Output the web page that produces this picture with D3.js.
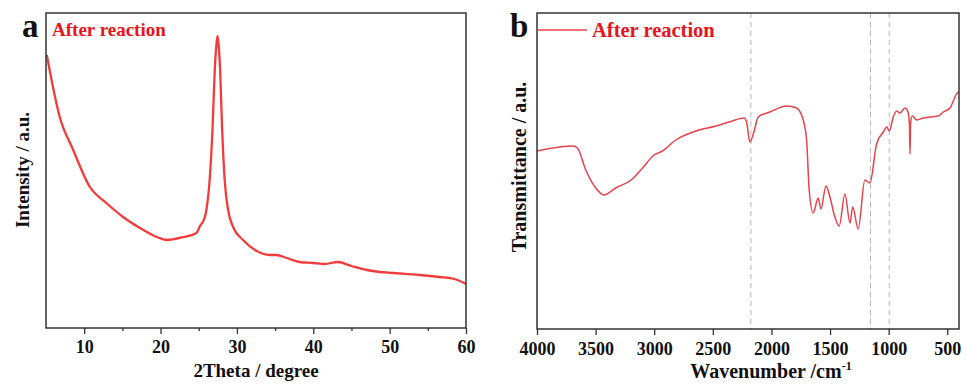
<!DOCTYPE html>
<html>
<head>
<meta charset="utf-8">
<script src="https://cdn.jsdelivr.net/npm/d3@7/dist/d3.min.js"></script>
<style>
  body { margin: 0; background: #fff; }
  svg text { font-family: "Liberation Serif", "Times New Roman", serif; font-weight: bold; }
</style>
</head>
<body>
<svg id="chart" width="966" height="387"></svg>
<script>
// XRD pattern (panel a), intensity in a.u.
const xrdTheta = [5.1, 6.8, 8.56, 10.75, 12.9, 15.1, 17.3, 19.5, 20.8, 23.0, 24.7, 25.1, 25.8, 26.0, 26.45, 26.8, 27.1, 27.3, 27.46,
  27.62, 27.8, 28.07, 28.4, 28.85, 29.5, 30.8, 32.6, 34.3, 35.2, 36.5, 38.2, 40, 41.5, 43.2, 45, 47, 48.7, 50.4, 53.9, 56.5, 58.5, 60];
const xrdIntensity = [273, 211, 178, 141, 125, 111, 100, 91, 88, 91, 95, 101, 111, 118, 150, 198, 258, 282, 292,
  282, 258, 198, 148, 118, 101, 88, 77, 73, 73, 70, 66, 65, 64, 66, 62, 58, 56, 55, 53, 51, 49, 44];
const xrdTicks = [10, 20, 30, 40, 50, 60];
const xrdMinor = [15, 25, 35, 45, 55];

// FTIR spectrum (panel b), transmittance in a.u.
const irWave = [4000, 3693, 3655, 3584, 3499, 3428, 3328, 3186, 3100, 3001, 2930, 2816, 2645, 2474, 2361, 2233, 2212, 2184,
  2150, 2113, 2014, 1871, 1786, 1729, 1700, 1678, 1644, 1601, 1578, 1535, 1501, 1459, 1422, 1373, 1330, 1307, 1260,
  1203, 1160, 1103, 1046, 1017, 995, 961, 932, 904, 861, 833, 823, 818, 813, 799, 761, 705, 577, 534, 477, 415, 400];
const irTrans = [178, 183, 181, 159, 141, 134, 141, 150, 161, 174, 178, 189, 198, 203, 207, 211, 207, 187,
  197, 212, 217, 223, 221, 209, 189, 139, 116, 131, 120, 143, 132, 112, 103, 135, 106, 122, 100,
  149, 146, 185, 197, 202, 198, 212, 218, 216, 221, 216, 205, 175, 205, 213, 209, 211, 213, 217, 221, 236, 237];
const irTicks = [4000, 3500, 3000, 2500, 2000, 1500, 1000, 500];
const irMarks = [2175, 1155, 995];

const svg = d3.select("#chart");

/****** panel a : XRD ******/
const ax = d3.scaleLinear().domain([5, 60]).range([46, 466]);
const ay = d3.scaleLinear().domain([0, 315]).range([328, 13]);

const ga = svg.append("g");

ga.append("path")
  .datum(d3.zip(xrdTheta, xrdIntensity))
  .attr("fill", "none")
  .attr("stroke", "#f23b3b")
  .attr("stroke-width", 2.3)
  .attr("stroke-linejoin", "miter")
  .attr("d", d3.line().x(d => ax(d[0])).y(d => ay(d[1])).curve(d3.curveMonotoneX));

ga.append("g")
  .attr("transform", "translate(0,328)")
  .call(d3.axisBottom(ax).tickValues(xrdTicks).tickSize(6).tickSizeOuter(0))
  .call(g => g.select(".domain").remove())
  .call(g => g.selectAll("line").attr("stroke", "#333").attr("stroke-width", 1.3))
  .call(g => g.selectAll("text").attr("font-size", 18).attr("fill", "#111").attr("dy", "0.9em")
    .style("font-family", "Liberation Serif").style("font-weight", "bold"));

ga.append("g")
  .attr("transform", "translate(0,328)")
  .call(d3.axisBottom(ax).tickValues(xrdMinor).tickSize(3).tickFormat(""))
  .call(g => g.select(".domain").remove())
  .call(g => g.selectAll("line").attr("stroke", "#333").attr("stroke-width", 1.3));

ga.append("rect")
  .attr("x", 46).attr("y", 13).attr("width", 420).attr("height", 315)
  .attr("fill", "none").attr("stroke", "#333").attr("stroke-width", 1.5);

ga.append("text").attr("x", 256).attr("y", 377).attr("text-anchor", "middle")
  .attr("font-size", 19).attr("fill", "#111").text("2Theta / degree");

ga.append("text").attr("transform", "translate(29,170) rotate(-90)").attr("text-anchor", "middle")
  .attr("font-size", 19).attr("fill", "#111").text("Intensity / a.u.");

ga.append("text").attr("x", 22).attr("y", 37).attr("font-size", 33).attr("fill", "#111").text("a");
ga.append("text").attr("x", 52).attr("y", 36).attr("font-size", 19).attr("fill", "#e8141c").text("After reaction");

/****** panel b : FTIR ******/
const bx = d3.scaleLinear().domain([4000, 400]).range([537, 959]);
const by = d3.scaleLinear().domain([0, 316]).range([329, 13]);

const gb = svg.append("g");

gb.selectAll(".mark").data(irMarks).enter().append("line")
  .attr("x1", d => bx(d)).attr("x2", d => bx(d)).attr("y1", 13).attr("y2", 329)
  .attr("stroke", "#b8b8b8").attr("stroke-width", 1).attr("stroke-dasharray", "5,4");

gb.append("path")
  .datum(d3.zip(irWave, irTrans))
  .attr("fill", "none")
  .attr("stroke", "#e6434d")
  .attr("stroke-width", 1.5)
  .attr("d", d3.line().x(d => bx(d[0])).y(d => by(d[1])).curve(d3.curveMonotoneX));

gb.append("g")
  .attr("transform", "translate(0,329)")
  .call(d3.axisBottom(bx).tickValues(irTicks).tickSize(6).tickSizeOuter(0).tickFormat(d3.format("d")))
  .call(g => g.select(".domain").remove())
  .call(g => g.selectAll("line").attr("stroke", "#333").attr("stroke-width", 1.3))
  .call(g => g.selectAll("text").attr("font-size", 18).attr("fill", "#111").attr("dy", "0.95em")
    .style("font-family", "Liberation Serif").style("font-weight", "bold"));

gb.append("rect")
  .attr("x", 537).attr("y", 13).attr("width", 422).attr("height", 316)
  .attr("fill", "none").attr("stroke", "#333").attr("stroke-width", 1.5);

const xt = gb.append("text").attr("x", 771).attr("y", 378).attr("text-anchor", "middle")
  .attr("font-size", 20).attr("fill", "#111");
xt.append("tspan").text("Wavenumber /cm");
xt.append("tspan").attr("font-size", 12).attr("dy", -8).text("-1");

gb.append("text").attr("transform", "translate(526,167) rotate(-90)").attr("text-anchor", "middle")
  .attr("font-size", 20).attr("fill", "#111").text("Transmittance / a.u.");

gb.append("text").attr("x", 510).attr("y", 37).attr("font-size", 33).attr("fill", "#111").text("b");
gb.append("line").attr("x1", 538).attr("x2", 587).attr("y1", 30).attr("y2", 30)
  .attr("stroke", "#e6434d").attr("stroke-width", 1.5);
gb.append("text").attr("x", 592).attr("y", 37).attr("font-size", 20.5).attr("fill", "#e8141c").text("After reaction");
</script>
</body>
</html>
